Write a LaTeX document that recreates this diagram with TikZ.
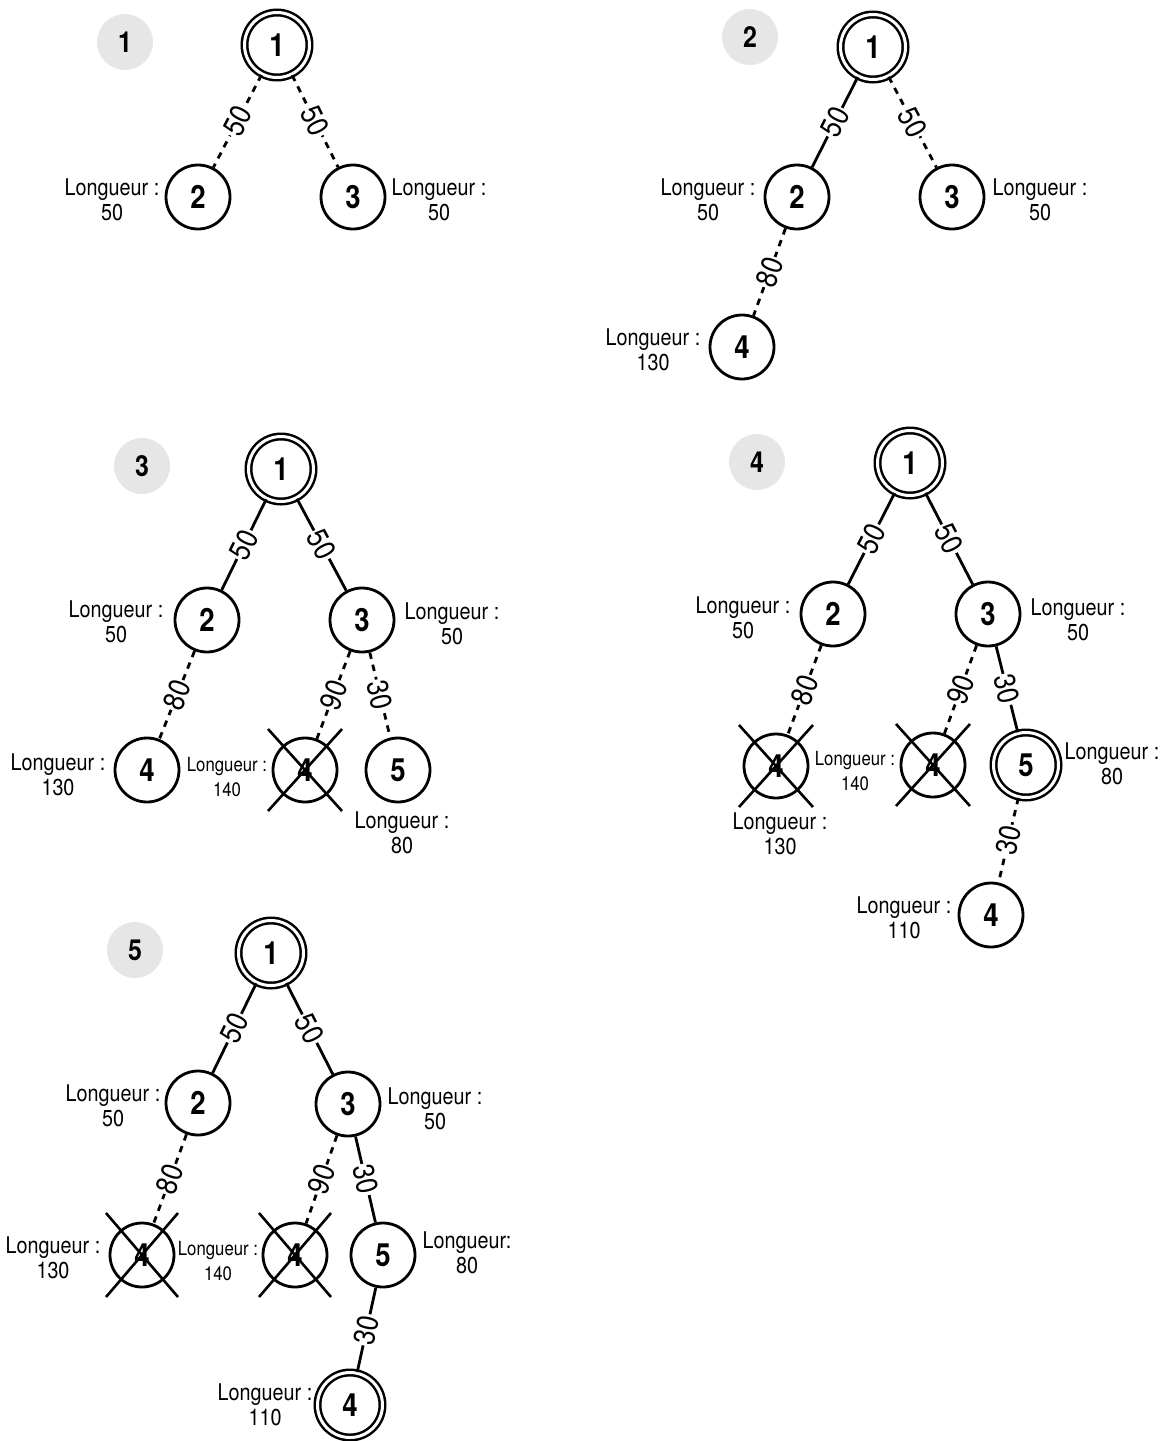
\documentclass[tikz,border=0pt]{standalone}
\usepackage{fontspec}
\setmainfont{TeX Gyre Heros}[FakeStretch=0.86]
\definecolor{badgegray}{RGB}{230,230,230}
\tikzset{
  st/.style={circle, draw, line width=2.8pt, minimum size=64pt, inner sep=0pt,
    font=\fontsize{32}{34}\selectfont\bfseries},
  dst/.style={st, double, double distance=3pt, line width=2.5pt, minimum size=65pt},
  badge/.style={circle, fill=badgegray, minimum size=56pt, inner sep=0pt,
    font=\fontsize{29}{30}\selectfont\bfseries},
  lbl/.style={align=center, inner sep=0pt, font=\fontsize{23}{25}\selectfont},
  lbls/.style={align=center, inner sep=0pt, font=\fontsize{19.5}{25}\selectfont},
  solidedge/.style={line width=2.8pt},
  dashedge/.style={line width=2.8pt, dash pattern=on 6.5pt off 6pt},
  wt/.style={midway, sloped, fill=white, inner sep=1.5pt, font=\fontsize{30}{30}\selectfont},
  crossline/.style={line width=2.6pt}
}
\begin{document}
\begin{tikzpicture}[x=1pt,y=-1pt]
\useasboundingbox (0,0) rectangle (1169,1441);

% ---------- Panel 1 ----------
\node[badge] (b1) at (125,42) {1};
\node[dst] (a1) at (277,45) {1};
\node[st] (a2) at (198,197) {2};
\node[st] (a3) at (353,197) {3};
\node[lbl] (la2) at (112,200) {Longueur :\\50};
\node[lbl] (la3) at (439,200) {Longueur :\\50};
\draw[dashedge] (a1) -- node[wt] (ea12) {50} (a2);
\draw[dashedge] (a1) -- node[wt] (ea13) {50} (a3);

% ---------- Panel 2 ----------
\node[badge] (b2) at (750,37) {2};
\node[dst] (f1) at (873,47) {1};
\node[st] (f2) at (797,197) {2};
\node[st] (f3) at (952,197) {3};
\node[st] (f4) at (742,347) {4};
\node[lbl] (lf2) at (708,200) {Longueur :\\50};
\node[lbl] (lf3) at (1040,200) {Longueur :\\50};
\node[lbl] (lf4) at (653,350) {Longueur :\\130};
\draw[solidedge] (f1) -- node[wt] (ef12) {50} (f2);
\draw[dashedge] (f1) -- node[wt] (ef13) {50} (f3);
\draw[dashedge] (f2) -- node[wt] (ef24) {80} (f4);

% ---------- Panel 3 ----------
\node[badge] (b3) at (142,466) {3};
\node[dst] (c1) at (281,469) {1};
\node[st] (c2) at (207,620) {2};
\node[st] (c3) at (362,620) {3};
\node[st] (c4a) at (147,770) {4};
\node[st] (c4b) at (305,770) {4};
\node[st] (c5) at (398,770) {5};
\node[lbl] (lc2) at (116,622) {Longueur :\\50};
\node[lbl] (lc3) at (452,624) {Longueur :\\50};
\node[lbl] (lc4a) at (58,775) {Longueur :\\130};
\node[lbls] (lc4b) at (227,777) {Longueur :\\140};
\node[lbl] (lc5) at (402,833) {Longueur :\\80};
\draw[solidedge] (c1) -- node[wt] (ec12) {50} (c2);
\draw[solidedge] (c1) -- node[wt] (ec13) {50} (c3);
\draw[dashedge] (c2) -- node[wt] (ec24) {80} (c4a);
\draw[dashedge] (c3) -- node[wt] (ec34) {90} (c4b);
\draw[dashedge] (c3) -- node[wt] (ec35) {30} (c5);
\draw[crossline] (c4b.center) ++(-37,-41) -- ++(74,82);
\draw[crossline] (c4b.center) ++(-37,41) -- ++(74,-82);

% ---------- Panel 4 ----------
\node[badge] (b4) at (757,462) {4};
\node[dst] (d1) at (910,463) {1};
\node[st] (d2) at (833,614) {2};
\node[st] (d3) at (988,614) {3};
\node[st] (d4a) at (776,766) {4};
\node[st] (d4b) at (933,765) {4};
\node[dst] (d5) at (1026,765) {5};
\node[st] (d4c) at (991,915) {4};
\node[lbl] (ld2) at (743,618) {Longueur :\\50};
\node[lbl] (ld3) at (1078,620) {Longueur :\\50};
\node[lbl] (ld4a) at (780,834) {Longueur :\\130};
\node[lbls] (ld4b) at (855,771) {Longueur :\\140};
\node[lbl] (ld5) at (1112,764) {Longueur :\\80};
\node[lbl] (ld4c) at (904,918) {Longueur :\\110};
\draw[solidedge] (d1) -- node[wt] (ed12) {50} (d2);
\draw[solidedge] (d1) -- node[wt] (ed13) {50} (d3);
\draw[dashedge] (d2) -- node[wt] (ed24) {80} (d4a);
\draw[dashedge] (d3) -- node[wt] (ed34) {90} (d4b);
\draw[solidedge] (d3) -- node[wt] (ed35) {30} (d5);
\draw[dashedge] (d5) -- node[wt] (ed54) {30} (d4c);
\draw[crossline] (d4a.center) ++(-37,-41) -- ++(74,82);
\draw[crossline] (d4a.center) ++(-37,41) -- ++(74,-82);
\draw[crossline] (d4b.center) ++(-37,-41) -- ++(74,82);
\draw[crossline] (d4b.center) ++(-37,41) -- ++(74,-82);

% ---------- Panel 5 ----------
\node[badge] (b5) at (135,950) {5};
\node[dst] (e1) at (271,953) {1};
\node[st] (e2) at (198,1103) {2};
\node[st] (e3) at (348,1104) {3};
\node[st] (e4a) at (142,1255) {4};
\node[st] (e4b) at (295,1255) {4};
\node[st] (e5) at (383,1255) {5};
\node[dst] (e4c) at (350,1405) {4};
\node[lbl] (le2) at (113,1106) {Longueur :\\50};
\node[lbl] (le3) at (435,1109) {Longueur :\\50};
\node[lbl] (le4a) at (53,1258) {Longueur :\\130};
\node[lbls] (le4b) at (218,1261) {Longueur :\\140};
\node[lbl] (le5) at (467,1253) {Longueur:\\80};
\node[lbl] (le4c) at (265,1405) {Longueur :\\110};
\draw[solidedge] (e1) -- node[wt] (ee12) {50} (e2);
\draw[solidedge] (e1) -- node[wt] (ee13) {50} (e3);
\draw[dashedge] (e2) -- node[wt] (ee24) {80} (e4a);
\draw[dashedge] (e3) -- node[wt] (ee34) {90} (e4b);
\draw[solidedge] (e3) -- node[wt] (ee35) {30} (e5);
\draw[solidedge] (e5) -- node[wt] (ee54) {30} (e4c);
\draw[crossline] (e4a.center) ++(-36,-42) -- ++(72,84);
\draw[crossline] (e4a.center) ++(-36,42) -- ++(72,-84);
\draw[crossline] (e4b.center) ++(-36,-42) -- ++(72,84);
\draw[crossline] (e4b.center) ++(-36,42) -- ++(72,-84);
\end{tikzpicture}
\end{document}
